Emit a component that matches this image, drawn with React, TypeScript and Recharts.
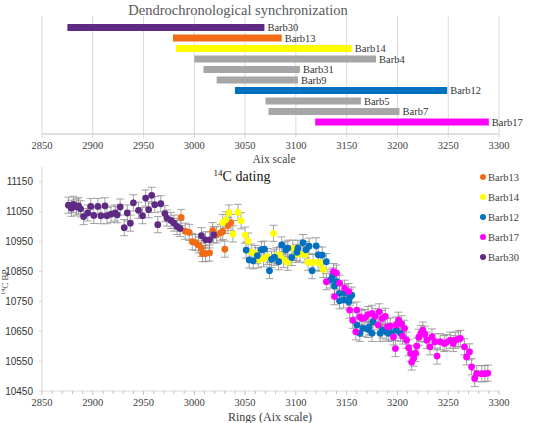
import React from 'react';
import {
  BarChart,
  Bar,
  Cell,
  LabelList,
  XAxis,
  YAxis,
  CartesianGrid,
  ScatterChart,
  Scatter,
  ErrorBar,
} from 'recharts';

const W = 534;

// ---- Dendrochronological synchronization (ring spans on the Aix scale) ----
const barNames = ['Barb30', 'Barb13', 'Barb14', 'Barb4', 'Barb31', 'Barb9', 'Barb12', 'Barb5', 'Barb7', 'Barb17'];
const barStart = [2875, 2979, 2982, 3000, 3009, 3022, 3040, 3070, 3073, 3119];
const barEnd = [3069, 3086, 3155, 3179, 3104, 3102, 3249, 3164, 3202, 3290];
const aixTicks = [2850, 2900, 2950, 3000, 3050, 3100, 3150, 3200, 3250, 3300];

// ---- 14C dating: [ring (Aix scale), 14C BP] ----
const barb13: [number, number][] = [
  [2987, 11031], [2991, 10985], [2995, 10981], [2998, 10950], [3001, 10947], [3004, 10939],
  [3007, 10928], [3008, 10910], [3011, 10910], [3015, 10912], [3018, 10987], [3022, 10973],
  [3026, 10980], [3028, 10984], [3030, 10925], [3033, 11004], [3036, 11014],
];
const barb14: [number, number][] = [
  [3028, 11014], [3031, 11023], [3034, 11046], [3038, 10976], [3043, 11048], [3046, 11020],
  [3050, 10972], [3053, 10952], [3056, 10915], [3060, 10910], [3063, 10889], [3068, 10893],
  [3072, 10900], [3078, 10978], [3081, 10903], [3084, 10906], [3088, 10890], [3092, 10881],
  [3097, 10928], [3100, 10908], [3104, 10909], [3109, 10906], [3112, 10881], [3117, 10881],
  [3122, 10880], [3124, 10878], [3127, 10857],
];
const barb12: [number, number][] = [
  [3051, 10922], [3054, 10889], [3058, 10886], [3062, 10903], [3066, 10923], [3069, 10925],
  [3074, 10853], [3076, 10891], [3079, 10898], [3083, 10883], [3086, 10939], [3090, 10923],
  [3092, 10928], [3096, 10897], [3101, 10914], [3102, 10928], [3107, 10947], [3110, 10923],
  [3113, 10935], [3116, 10853], [3120, 10936], [3122, 10906], [3126, 10905], [3130, 10883],
  [3134, 10822], [3136, 10835], [3138, 10802], [3140, 10816], [3143, 10777], [3143, 10752],
  [3147, 10755], [3148, 10779], [3152, 10749], [3153, 10764], [3155, 10771], [3160, 10671],
  [3163, 10643], [3166, 10660], [3171, 10656], [3172, 10665], [3175, 10643], [3176, 10682],
  [3183, 10643], [3185, 10654], [3189, 10648], [3191, 10643], [3194, 10645], [3199, 10654],
  [3203, 10643],
];
const barb17: [number, number][] = [
  [3130, 10816], [3137, 10850], [3138, 10766], [3140, 10845], [3143, 10811], [3148, 10794],
  [3152, 10783], [3153, 10721], [3156, 10687], [3159, 10648], [3160, 10721], [3163, 10698],
  [3165, 10693], [3168, 10696], [3171, 10706], [3175, 10710], [3178, 10700], [3181, 10671],
  [3182, 10715], [3185, 10693], [3188, 10700], [3190, 10665], [3193, 10668], [3196, 10631],
  [3198, 10592], [3199, 10671], [3201, 10687], [3204, 10675], [3205, 10634], [3207, 10660],
  [3209, 10620], [3211, 10595], [3213, 10576], [3214, 10547], [3216, 10560], [3218, 10576],
  [3219, 10600], [3221, 10630], [3223, 10643], [3225, 10654], [3227, 10640], [3229, 10620],
  [3232, 10598], [3234, 10631], [3237, 10615], [3239, 10567], [3242, 10615], [3246, 10609],
  [3248, 10612], [3252, 10620], [3255, 10609], [3257, 10620], [3260, 10624], [3262, 10626],
  [3266, 10598], [3268, 10564], [3271, 10581], [3273, 10531], [3276, 10492], [3278, 10508],
  [3283, 10508], [3286, 10508], [3289, 10510],
];
const barb30: [number, number][] = [
  [2876, 11072], [2879, 11062], [2881, 11075], [2884, 11066], [2886, 11070], [2888, 11060],
  [2891, 11034], [2895, 11046], [2898, 11068], [2901, 11038], [2905, 11068], [2908, 11037],
  [2912, 11070], [2914, 11037], [2918, 11042], [2922, 11046], [2924, 11040], [2927, 11066],
  [2931, 10997], [2934, 11046], [2937, 11012], [2940, 11080], [2945, 11055], [2949, 11037],
  [2952, 11096], [2955, 11057], [2958, 11105], [2961, 11074], [2964, 11007], [2967, 11077],
  [2971, 11044], [2973, 11029], [2977, 11021], [2980, 11012], [2983, 11001], [2986, 10994],
  [3007, 10970], [3011, 10956], [3015, 10956], [3019, 10973],
];
const C14_ERROR = 27; // error bars look uniform, about +/- 27 yr
const ringTicks = [
  2850, 2860, 2870, 2880, 2890, 2900, 2910, 2920, 2930, 2940, 2950, 2960, 2970, 2980, 2990,
  3000, 3010, 3020, 3030, 3040, 3050, 3060, 3070, 3080, 3090, 3100, 3110, 3120, 3130, 3140,
  3150, 3160, 3170, 3180, 3190, 3200, 3210, 3220, 3230, 3240, 3250, 3260, 3270, 3280, 3290, 3300,
];
const bpTicks = [10450, 10550, 10650, 10750, 10850, 10950, 11050, 11150];

const barColors: Record<string, string> = {
  Barb30: '#5E2A84',
  Barb13: '#F26B15',
  Barb14: '#FFFF00',
  Barb12: '#0070C0',
  Barb17: '#FF00FF',
};
const GREY_BAR = '#A6A6A6';
const SERIF = 'Liberation Serif';
const SANS = 'Liberation Sans';

const scatterSeries = [
  { name: 'Barb13', points: barb13 },
  { name: 'Barb14', points: barb14 },
  { name: 'Barb12', points: barb12 },
  { name: 'Barb17', points: barb17 },
  { name: 'Barb30', points: barb30 },
];

const barData = barNames.map((name, i) => ({ name, span: [barStart[i], barEnd[i]] }));

const AixTick = (props: any) => {
  const { x, y, payload } = props;
  return (
    <text x={x} y={y + 10} textAnchor="middle" fontFamily={SERIF} fontSize={10.5} fill="#404040">
      {payload.value}
    </text>
  );
};

const RingTick = (props: any) => {
  const { x, y, payload } = props;
  const v = payload.value;
  const major = v % 50 === 0;
  return (
    <g>
      <line x1={x} x2={x} y1={y} y2={y + (major ? 4 : 3)} stroke="#BFBFBF" />
      {major && (
        <text x={x} y={y + 15} textAnchor="middle" fontFamily={SERIF} fontSize={10.5} fill="#404040">
          {v}
        </text>
      )}
    </g>
  );
};

const BarNameLabel = (props: any) => {
  const { x, y, width, height, value } = props;
  return (
    <text x={x + width + 3} y={y + height / 2 + 3.5} fontFamily={SERIF} fontSize={10.5} fill="#333">
      {value}
    </text>
  );
};

export default function App() {
  return (
    <div style={{ position: 'absolute', left: 0, top: 0, width: W, height: 423, background: '#fff' }}>
      <div style={{ position: 'absolute', left: 0, top: 0 }}>
        <BarChart
          layout="vertical"
          width={W}
          height={165}
          data={barData}
          margin={{ top: 16, right: 35, left: 42, bottom: 1 }}
        >
          <CartesianGrid horizontal={false} stroke="#D9D9D9" />
          <XAxis
            type="number"
            domain={[2850, 3300]}
            ticks={aixTicks}
            interval={0}
            allowDataOverflow
            height={30}
            axisLine={{ stroke: '#BFBFBF' }}
            tickLine={{ stroke: '#D9D9D9' }}
            tickSize={4}
            tickMargin={1}
            tick={<AixTick />}
          />
          <YAxis type="category" dataKey="name" hide width={0} padding={{ top: 6, bottom: 7 }} />
          <Bar dataKey="span" barSize={7} isAnimationActive={false}>
            {barData.map((d) => (
              <Cell key={d.name} fill={barColors[d.name] || GREY_BAR} />
            ))}
            <LabelList dataKey="name" content={<BarNameLabel />} />
          </Bar>
        </BarChart>
      </div>

      <div style={{ position: 'absolute', left: 0, top: 160 }}>
        <ScatterChart width={W} height={263} margin={{ top: 7, right: 35, left: 0, bottom: 0 }}>
          <XAxis
            type="number"
            dataKey="x"
            domain={[2850, 3300]}
            ticks={ringTicks}
            interval={0}
            allowDataOverflow
            height={32}
            axisLine={{ stroke: '#D9D9D9' }}
            tickLine={false}
            tickSize={0}
            tickMargin={0}
            tick={<RingTick />}
          />
          <YAxis
            type="number"
            dataKey="y"
            domain={[10450, 11200]}
            ticks={bpTicks}
            interval={0}
            allowDataOverflow
            width={42}
            axisLine={{ stroke: '#D9D9D9' }}
            tickLine={{ stroke: '#D9D9D9' }}
            tickSize={3}
            tickMargin={6}
            tick={{ fontFamily: SANS, fontSize: 10, fill: '#333' }}
          />
          {scatterSeries.map((s) => (
            <Scatter
              key={s.name}
              name={s.name}
              data={s.points.map(([x, y]) => ({ x, y, err: C14_ERROR }))}
              isAnimationActive={false}
              shape={(p: any) => <circle cx={p.cx} cy={p.cy} r={3.4} fill={barColors[s.name]} />}
            >
              <ErrorBar
                dataKey="err"
                direction="y"
                width={4}
                stroke="#8C8C8C"
                strokeWidth={0.8}
                isAnimationActive={false}
              />
            </Scatter>
          ))}
        </ScatterChart>
      </div>

      <svg
        width={W}
        height={423}
        style={{ position: 'absolute', left: 0, top: 0, pointerEvents: 'none', overflow: 'hidden' }}
      >
        <text x={238} y={15} textAnchor="middle" fontFamily={SERIF} fontSize={14.5} fill="#595959">
          Dendrochronological synchronization
        </text>
        <text x={274} y={163} textAnchor="middle" fontFamily={SERIF} fontSize={11.5} fill="#404040">
          Aix scale
        </text>
        <text x={242} y={181} textAnchor="middle" fontFamily={SERIF} fontSize={14} fill="#111">
          <tspan fontSize={9} dy={-5}>14</tspan>
          <tspan dy={5}>C dating</tspan>
        </text>
        <text x={270} y={421} textAnchor="middle" fontFamily={SERIF} fontSize={12} fill="#404040">
          Rings (Aix scale)
        </text>
        <text
          x={8}
          y={282}
          transform="rotate(-90 8 282)"
          textAnchor="middle"
          fontFamily={SERIF}
          fontSize={9}
          fill="#404040"
        >
          <tspan fontSize={6} dy={-3}>14</tspan>
          <tspan dy={3}>C BP</tspan>
        </text>
        {scatterSeries.map((s, i) => (
          <g key={s.name}>
            <circle cx={483} cy={177 + i * 20} r={3} fill={barColors[s.name]} />
            <text x={488} y={181 + i * 20} fontFamily={SERIF} fontSize={10.5} fill="#404040">
              {s.name}
            </text>
          </g>
        ))}
      </svg>
    </div>
  );
}
